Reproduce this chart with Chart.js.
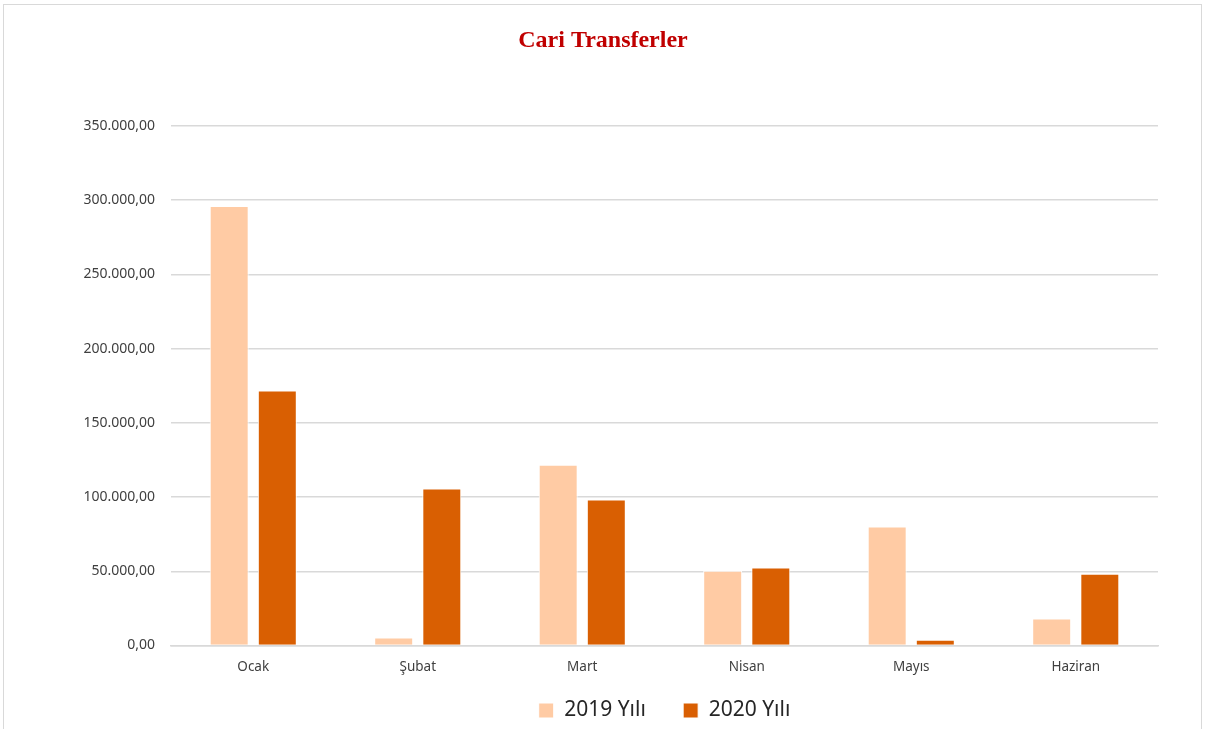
<!DOCTYPE html>
<html>
<head>
<meta charset="utf-8">
<script src="https://cdn.jsdelivr.net/npm/chart.js@4"></script>
<style>
    body { margin: 0; background: #fff; }
    #wrap { position: relative; width: 1206px; height: 729px; overflow: hidden; }
    #frame { position: absolute; left: 3px; top: 4px; width: 1199px; height: 760px; border: 1px solid #d9d9d9; box-sizing: border-box; }
    #ResultData { position: absolute; left: 0; top: 0; }
</style>
</head>
<body>
<div id="wrap">
    <div id="frame"></div>
    <canvas id="ResultData" width="1206" height="729"></canvas>
</div>
<script>
const months = ["Ocak", "Şubat", "Mart", "Nisan", "Mayıs", "Haziran"];
const yil2019 = [296000, 5400, 121800, 50300, 80100, 18200];
const yil2020 = [171700, 105800, 98300, 52600, 3800, 48400];
const seriesNames = ["2019 Yılı", "2020 Yılı"];

const ItemChart = document.getElementById("ResultData");
const uiFont = "'Noto Sans', 'Open Sans', sans-serif";

function formatTr(v) {
    const whole = Math.round(v).toString().replace(/\B(?=(\d{3})+(?!\d))/g, ".");
    return whole + ",00";
}

new Chart(ItemChart, {
    type: "bar",
    data: {
        labels: months,
        datasets: [
            {
                label: seriesNames[0],
                data: yil2019,
                backgroundColor: "#ffcba4",
                borderColor: "#ffffff",
                borderWidth: 1,
            },
            {
                label: seriesNames[1],
                data: yil2020,
                backgroundColor: "#d95f02",
                borderColor: "#ffffff",
                borderWidth: 1,
            },
        ],
    },
    options: {
        responsive: false,
        animation: false,
        datasets: {
            bar: { categoryPercentage: 0.585, barPercentage: 0.81 },
        },
        layout: { padding: { left: 48, right: 48, top: 0, bottom: -2 } },
        plugins: {
            title: {
                display: true,
                text: "Cari Transferler",
                color: "#c00000",
                font: { family: "'Liberation Serif', 'Times New Roman', serif", size: 24, weight: "bold" },
                padding: { top: 26, bottom: 71 },
            },
            legend: {
                position: "bottom",
                fullSize: false,
                labels: {
                    color: "#262626",
                    font: { family: uiFont, size: 21 },
                    boxWidth: 15,
                    boxHeight: 15,
                    padding: 10,
                    // extra gap after the first entry, like the original legend
                    generateLabels: (chart) => {
                        const items = Chart.defaults.plugins.legend.labels.generateLabels(chart);
                        items[0].text = items[0].text + "     ";
                        return items;
                    },
                },
            },
            tooltip: { enabled: false },
        },
        scales: {
            x: {
                afterFit: (scale) => { scale.height = 44.5; },
                grid: { display: false, drawTicks: false },
                border: { color: "#d9d9d9", width: 1.5 },
                ticks: {
                    color: "#404040",
                    font: { family: uiFont, size: 13.5 },
                    padding: 14,
                },
            },
            y: {
                min: 0,
                max: 350000,
                afterFit: (scale) => { scale.width = 123; },
                grid: { color: "#d9d9d9", lineWidth: 1.5, drawTicks: false },
                border: { display: false },
                ticks: {
                    stepSize: 50000,
                    color: "#404040",
                    font: { family: uiFont, size: 14 },
                    padding: 16,
                    callback: (v) => formatTr(v),
                },
            },
        },
    },
});
</script>
</body>
</html>
